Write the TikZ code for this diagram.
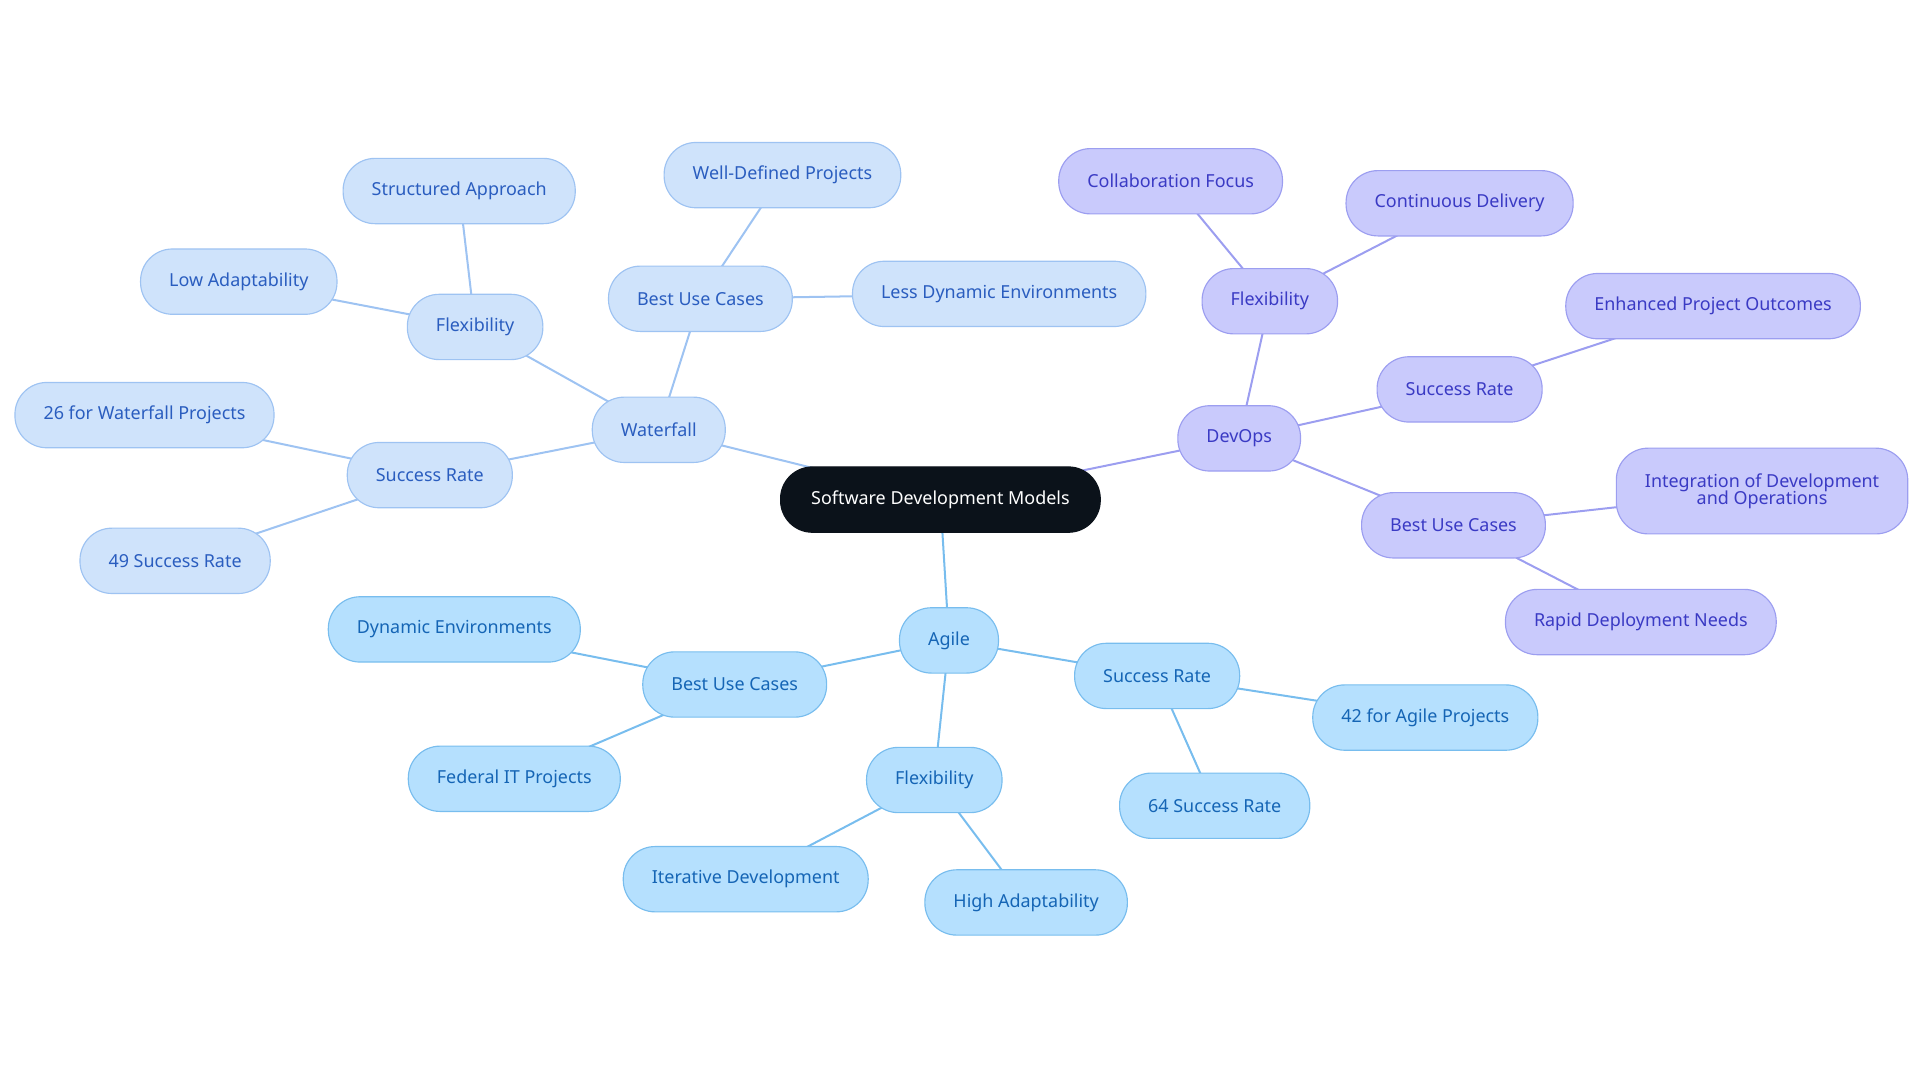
\documentclass[tikz,border=0pt]{standalone}
\usepackage{fontspec}
\setmainfont{Noto Sans}
\usetikzlibrary{backgrounds}
\definecolor{wf}{HTML}{CFE3FB}\definecolor{wd}{HTML}{9EC3F2}\definecolor{wt}{HTML}{2A5DBF}
\definecolor{af}{HTML}{B5E0FE}\definecolor{ad}{HTML}{78BDEE}\definecolor{at}{HTML}{1565B5}
\definecolor{df}{HTML}{C9CAFC}\definecolor{dd}{HTML}{9C9EF0}\definecolor{dt}{HTML}{3A3AC4}
\definecolor{cf}{HTML}{0B121A}
\tikzset{
 bx/.style={rounded corners=0.78cm,minimum height=1.6cm,inner xsep=0.7cm,font=\fontsize{12.5}{14}\selectfont,line width=0.8pt,align=center},
 wn/.style={bx,fill=wf,draw=wd,text=wt},
 an/.style={bx,fill=af,draw=ad,text=at},
 dn/.style={bx,fill=df,draw=dd,text=dt},
 we/.style={draw=wd,line width=1.4pt},
 ae/.style={draw=ad,line width=1.4pt},
 de/.style={draw=dd,line width=1.4pt},
}
\begin{document}
\begin{tikzpicture}[x=0.03cm,y=-0.03cm]
\useasboundingbox (0,0) rectangle (1568,884);
\node[bx,fill=cf,draw=cf,text=white,inner xsep=0.75cm] (c) at (768,408) {Software Development Models};
\node[wn] (w) at (538,351) {Waterfall};
\node[wn] (wfl) at (388,267) {Flexibility};
\node[wn] (wsa) at (375,156) {Structured Approach};
\node[wn] (wla) at (195,230) {Low Adaptability};
\node[wn] (wbu) at (572,244) {Best Use Cases};
\node[wn] (wwd) at (639,143) {Well-Defined Projects};
\node[wn] (wld) at (816,240) {Less Dynamic Environments};
\node[wn] (wsr) at (351,388) {Success Rate};
\node[wn] (w26) at (118,339) {26 for Waterfall Projects};
\node[wn] (w49) at (143,458) {49 Success Rate};
\node[an] (a) at (775,523) {Agile};
\node[an] (abu) at (600,559) {Best Use Cases};
\node[an] (ade) at (371,514) {Dynamic Environments};
\node[an] (afi) at (420,636) {Federal IT Projects};
\node[an] (afl) at (763,637) {Flexibility};
\node[an] (aid) at (609,718) {Iterative Development};
\node[an] (aha) at (838,737) {High Adaptability};
\node[an] (asr) at (945,552) {Success Rate};
\node[an] (a42) at (1164,586) {42 for Agile Projects};
\node[an] (a64) at (992,658) {64 Success Rate};
\node[dn] (d) at (1012,358) {DevOps};
\node[dn] (dfl) at (1037,246) {Flexibility};
\node[dn] (dcf) at (956,148) {Collaboration Focus};
\node[dn] (dcd) at (1192,166) {Continuous Delivery};
\node[dn] (dsr) at (1192,318) {Success Rate};
\node[dn] (dep) at (1399,250) {Enhanced Project Outcomes};
\node[dn] (dbu) at (1187,429) {Best Use Cases};
\node[dn,minimum height=2.1cm] (dio) at (1439,401) {Integration of Development\\[-2pt]and Operations};
\node[dn] (drd) at (1340,508) {Rapid Deployment Needs};
\begin{scope}[on background layer]
\path[we] (c.center)--(w.center) (w.center)--(wfl.center) (wfl.center)--(wsa.center) (wfl.center)--(wla.center)
 (w.center)--(wbu.center) (wbu.center)--(wwd.center) (wbu.center)--(wld.center)
 (w.center)--(wsr.center) (wsr.center)--(w26.center) (wsr.center)--(w49.center);
\path[ae] (c.center)--(a.center) (a.center)--(abu.center) (abu.center)--(ade.center) (abu.center)--(afi.center)
 (a.center)--(afl.center) (afl.center)--(aid.center) (afl.center)--(aha.center)
 (a.center)--(asr.center) (asr.center)--(a42.center) (asr.center)--(a64.center);
\path[de] (c.center)--(d.center) (d.center)--(dfl.center) (dfl.center)--(dcf.center) (dfl.center)--(dcd.center)
 (d.center)--(dsr.center) (dsr.center)--(dep.center) (d.center)--(dbu.center) (dbu.center)--(dio.center) (dbu.center)--(drd.center);
\end{scope}
\end{tikzpicture}
\end{document}
